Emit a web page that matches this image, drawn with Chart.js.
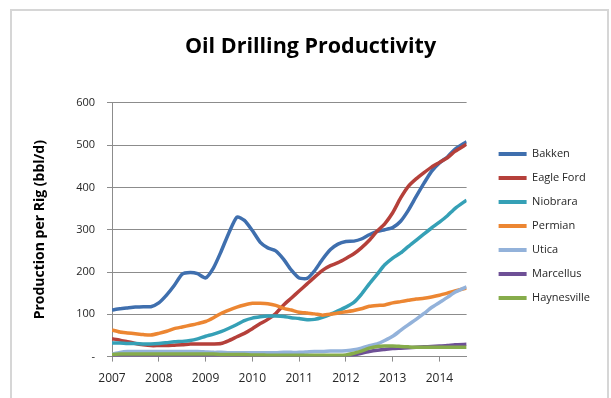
<!DOCTYPE html>
<html>
<head>
<meta charset="utf-8">
<script src="https://cdn.jsdelivr.net/npm/chart.js@4.4.1/dist/chart.umd.min.js"></script>
<style>
  body { margin: 0; background: #fff; }
  #frame { position: absolute; left: 10px; top: 9px; width: 595px; height: 400px; border: 2px solid #d6d6d6; }
  #wrap { position: absolute; left: 0; top: 0; width: 611px; height: 398px; }
</style>
</head>
<body>
<div id="frame"></div>
<div id="wrap"><canvas id="myChart" width="611" height="398"></canvas></div>
<script>
// every 2 months, Jan 2007 .. Jul 2014
var years = [
  2007.00, 2007.17, 2007.33, 2007.50, 2007.67, 2007.83,
  2008.00, 2008.17, 2008.33, 2008.50, 2008.67, 2008.83,
  2009.00, 2009.17, 2009.33, 2009.50, 2009.67, 2009.83,
  2010.00, 2010.17, 2010.33, 2010.50, 2010.67, 2010.83,
  2011.00, 2011.17, 2011.33, 2011.50, 2011.67, 2011.83,
  2012.00, 2012.17, 2012.33, 2012.50, 2012.67, 2012.83,
  2013.00, 2013.17, 2013.33, 2013.50, 2013.67, 2013.83,
  2014.00, 2014.17, 2014.33, 2014.58
];

var bakken = [110,113,115,117,118,118, 127,146,168,195,199,196, 186,210,248,293,330,322,
  298,270,257,250,230,205, 186,185,203,230,253,266, 272,273,278,288,296,300,
  305,320,345,378,410,438, 458,472,490,508];
var eagleFord = [42,39,35,31,28,26, 26,26,27,28,30,30, 30,30,31,38,47,55,
  66,78,88,102,122,138, 155,172,188,204,215,222, 232,243,257,275,297,314,
  340,375,402,420,435,448, 459,470,485,502];
var niobrara = [32,32,31,31,30,30, 31,33,35,36,38,42, 48,53,59,67,76,85,
  91,94,96,96,95,92, 90,87,88,93,100,108, 117,128,147,172,195,217,
  233,245,260,275,290,304, 318,333,350,370];
var permian = [63,58,56,54,52,51, 55,60,66,70,74,78, 83,92,102,110,117,122,
  126,126,125,121,114,110, 105,103,101,98,100,103, 106,109,113,119,121,122,
  127,130,133,136,138,141, 145,150,155,162];
var utica = [6,10,12,12,12,12, 12,12,12,12,12,12, 11,10,10,9,9,9,
  9,9,9,9,10,10, 10,11,12,12,13,13, 14,16,20,26,30,38,
  48,62,75,88,102,116, 128,140,152,165];
var marcellus = [1,2,2,2,2,2, 2,2,2,2,2,2, 2,2,2,2,2,2,
  2,2,2,2,2,2, 2,2,2,2,2,2, 2,4,8,12,15,17,
  19,20,21,22,23,24, 25,26,28,29];
var haynesville = [5,6,6,6,6,6, 6,6,6,6,6,6, 6,6,5,5,5,5,
  4,4,3,3,3,3, 3,3,3,3,3,3, 4,8,13,20,24,25,
  25,24,23,22,22,22, 22,22,22,22];

var seriesNames = ["Bakken", "Eagle Ford", "Niobrara", "Permian", "Utica", "Marcellus", "Haynesville"];
var seriesData = [bakken, eagleFord, niobrara, permian, utica, marcellus, haynesville];
var colors = ["#3F6FAE", "#B5403A", "#35A0B6", "#EC8632", "#93B2DA", "#6E5096", "#86AC4B"];
var xTicks = [2007, 2008, 2009, 2010, 2011, 2012, 2013, 2014];
var yTicks = [0, 100, 200, 300, 400, 500, 600];

var FONT = "'Open Sans', 'Liberation Sans', sans-serif";

// nudge legend and title, like the Excel layout
var layoutShift = {
  id: 'layoutShift',
  afterLayout: function (chart) {
    var lg = chart.legend;
    lg.left += 19; lg.right += 19;
    lg.top += 23; lg.bottom += 23;
    var tb = chart.titleBlock;
    tb.left += 13; tb.right += 13;
  }
};

var datasets = seriesNames.map(function (name, i) {
  return {
    label: name,
    data: years.map(function (x, j) { return { x: x, y: seriesData[i][j] }; }),
    borderColor: colors[i],
    backgroundColor: colors[i],
    borderWidth: 3.5,
    pointRadius: 0,
    tension: 0.2,
    order: seriesNames.length - i
  };
});

new Chart(document.getElementById("myChart"), {
  type: 'line',
  data: { datasets: datasets },
  plugins: [layoutShift],
  options: {
    responsive: false,
    animation: false,
    layout: { padding: { left: 14, right: 30, top: 10, bottom: 2 } },
    plugins: {
      title: {
        display: true,
        text: 'Oil Drilling Productivity',
        color: '#000',
        font: { family: FONT, size: 21.5, weight: 'bold' },
        padding: { top: 24, bottom: 43 }
      },
      legend: {
        position: 'right',
        labels: {
          font: { family: FONT, size: 11 },
          color: '#262626',
          boxWidth: 28,
          boxHeight: 4,
          padding: 13,
          sort: function (a, b) { return a.datasetIndex - b.datasetIndex; },
          generateLabels: function (chart) {
            var items = Chart.defaults.plugins.legend.labels.generateLabels(chart);
            items.forEach(function (it) { it.lineWidth = 0; it.fillStyle = it.strokeStyle; });
            return items;
          }
        }
      },
      tooltip: { enabled: false }
    },
    scales: {
      x: {
        type: 'linear',
        min: 2007,
        max: 2014.58,
        afterBuildTicks: function (scale) {
          scale.ticks = xTicks.map(function (v) { return { value: v }; });
        },
        ticks: {
          padding: 10,
          autoSkip: false,
          color: '#262626',
          font: { family: FONT, size: 12 },
          callback: function (v) { return String(v); },
          maxRotation: 0
        },
        grid: { drawOnChartArea: false, drawTicks: true, tickLength: 5, color: '#8c8c8c' },
        border: { color: '#8c8c8c' }
      },
      y: {
        min: 0,
        max: 600,
        afterBuildTicks: function (scale) {
          scale.ticks = yTicks.map(function (v) { return { value: v }; });
        },
        afterFit: function (scale) { scale.width = 98; },
        ticks: {
          padding: 12,
          color: '#262626',
          font: { family: FONT, size: 11 },
          callback: function (v) { return v === 0 ? '-' : v; }
        },
        grid: { color: '#8c8c8c', tickLength: 5 },
        border: { color: '#8c8c8c' },
        title: {
          display: true,
          text: 'Production per Rig (bbl/d)',
          color: '#000',
          font: { family: FONT, size: 14, weight: 'bold' },
          padding: { top: 18, bottom: 0 }
        }
      }
    }
  }
});
</script>
</body>
</html>
